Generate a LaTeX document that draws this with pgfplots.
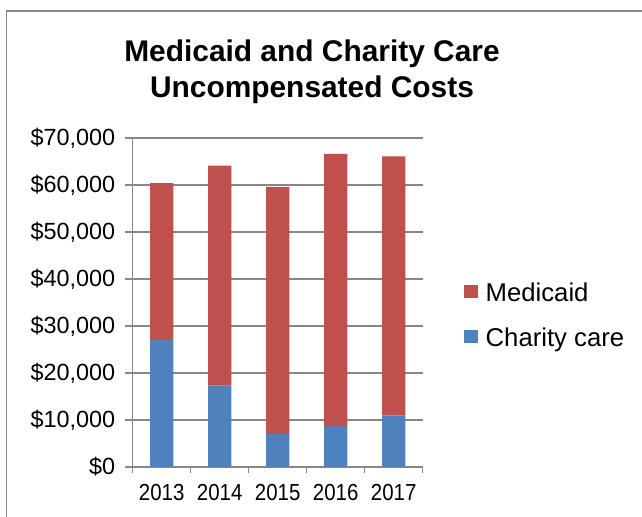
\documentclass[border=0pt]{standalone}
\usepackage{pgfplots}
\pgfplotsset{compat=1.18}
\usepackage{fontspec}
\setmainfont{Liberation Sans}
\newfontfamily\narrowfont[FakeStretch=0.88]{Liberation Sans}
\definecolor{medred}{HTML}{C0504D}
\definecolor{charblue}{HTML}{4F81BD}
\definecolor{axgray}{HTML}{878787}
\begin{document}
\begin{tikzpicture}[x=1bp,y=1bp]
\useasboundingbox (0,0) rectangle (642,517);
\draw[axgray, line width=1.5bp] (6.7,-2) -- (6.7,506) -- (644,506);
\node[anchor=base, inner sep=0pt, font=\bfseries\fontsize{30}{36}\selectfont] at (312,455.3) {Medicaid and Charity Care};
\node[anchor=base, inner sep=0pt, font=\bfseries\fontsize{30}{36}\selectfont] at (312,419.3) {Uncompensated Costs};
\begin{axis}[
  at={(132.7bp,50bp)}, anchor=south west,
  scale only axis, width=290bp, height=329bp,
  ybar stacked, bar width=0.4,
  xmin=-0.5, xmax=4.5, ymin=0, ymax=70000,
  enlargelimits=false,
  axis lines=left, axis line style={-, axgray, line width=1.5bp},
  xtick={0,1,2,3,4}, xticklabels={2013,2014,2015,2016,2017},
  minor xtick={-0.5,0.5,1.5,2.5,3.5,4.5},
  ytick={0,10000,20000,30000,40000,50000,60000,70000},
  ymajorgrids, grid style={axgray, line width=1.5bp},
  tick align=outside, major tick length=8bp, minor tick length=6bp,
  tick style={axgray, line width=1.5bp},
  every major x tick/.append style={draw=none},
  scaled y ticks=false,
  /pgf/number format/assume math mode=true,
  /pgf/number format/fixed, /pgf/number format/precision=0,
  /pgf/number format/1000 sep={,},
  yticklabel={\$\pgfmathprintnumber{\tick}},
  yticklabel style={font=\fontsize{23.5}{28}\selectfont, xshift=-6bp},
  xticklabel style={font=\narrowfont\fontsize{23.3}{28}\selectfont, yshift=-6bp},
  reverse legend,
  legend style={at={(1.132,0.46)}, anchor=west, draw=none, fill=none,
    font=\fontsize{25.8}{30}\selectfont, row sep=21bp},
  legend cell align=left,
  legend image code/.code={\fill[#1] (0bp,-5bp) rectangle (13.4bp,8.3bp);\path (0bp,0bp) -- (19.5bp,0bp);},
]
\addplot[fill=charblue, draw=none] coordinates {(0,27000) (1,17300) (2,7000) (3,8700) (4,11000)};
\addplot[fill=medred, draw=none] coordinates {(0,33400) (1,46800) (2,52600) (3,57900) (4,55100)};
\legend{Charity care, Medicaid}
\end{axis}
\end{tikzpicture}
\end{document}
